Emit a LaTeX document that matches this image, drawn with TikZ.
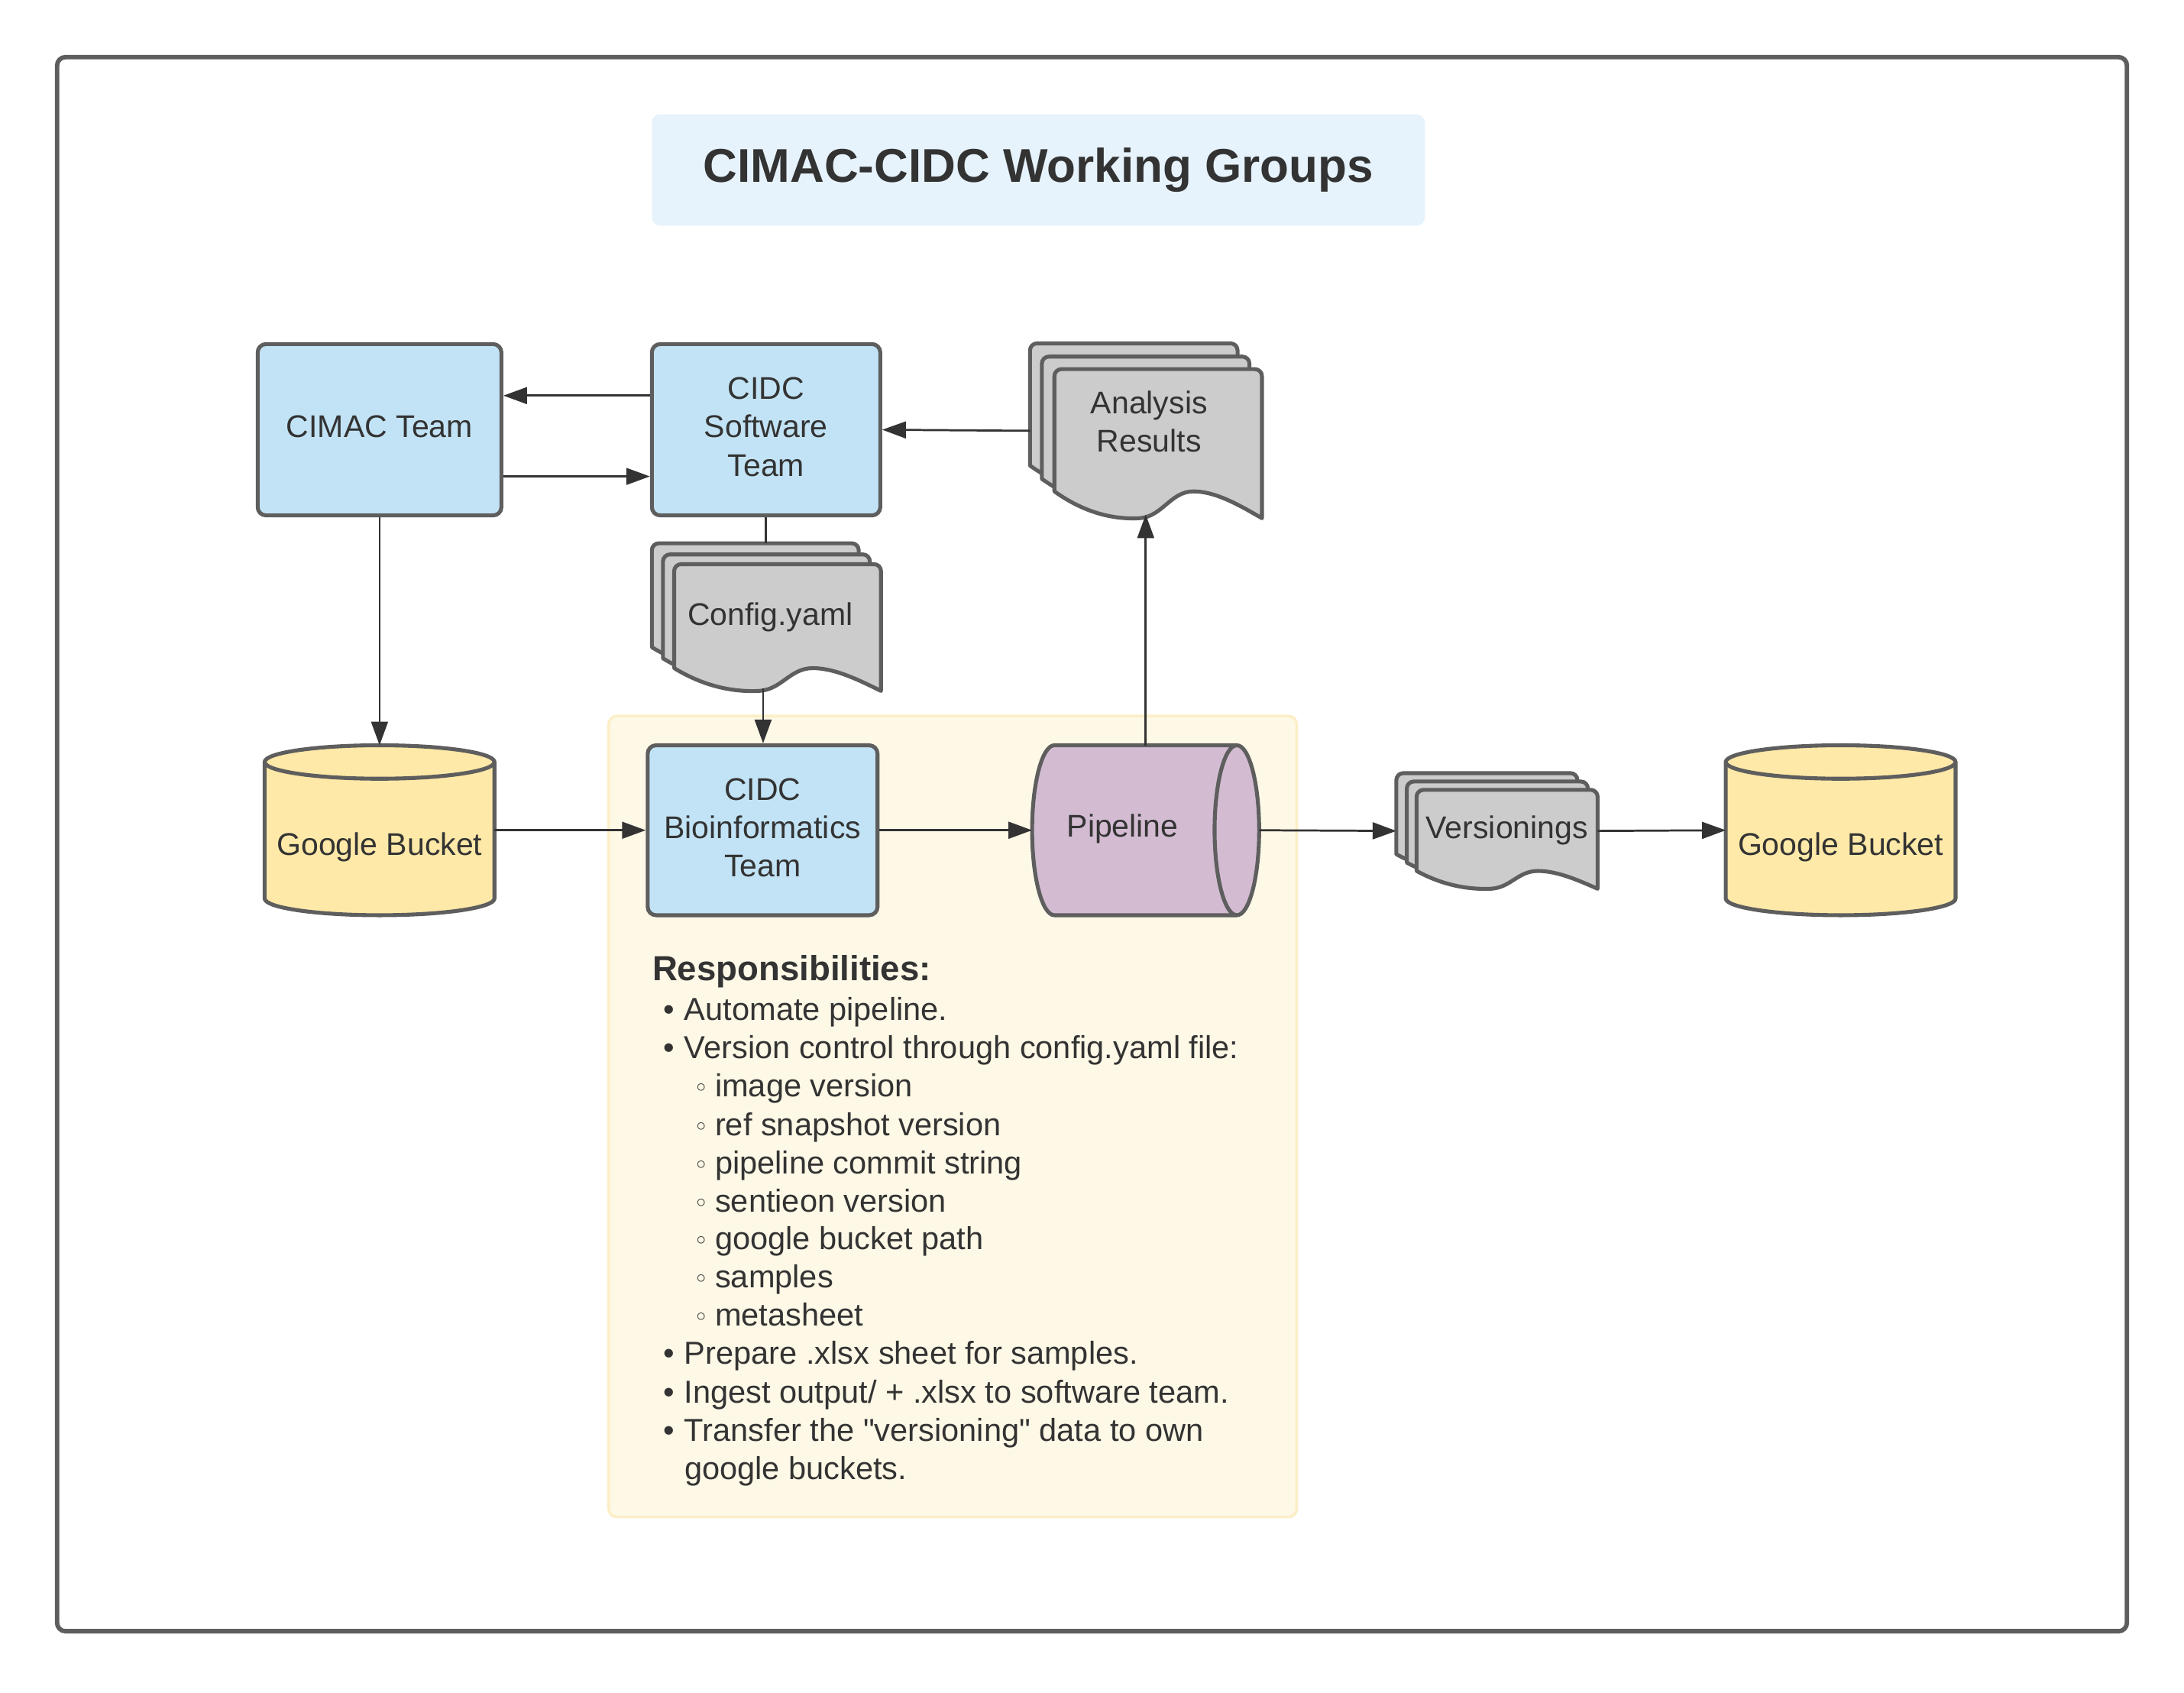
\documentclass[tikz,border=0pt]{standalone}
\usepackage{fontspec}
\setmainfont{Liberation Sans}
\newfontfamily\rawsans{Liberation Sans}[Ligatures=TeXOff]
\newfontfamily\dejavu{DejaVu Sans}
\usetikzlibrary{arrows.meta,calc}
\definecolor{edgegray}{HTML}{5E5E5E}
\definecolor{linedark}{HTML}{333333}
\definecolor{textdark}{HTML}{333333}
\definecolor{boxblue}{HTML}{C2E3F5}
\definecolor{docgray}{HTML}{CCCCCC}
\definecolor{bucketyellow}{HTML}{FFE9A8}
\definecolor{pipemauve}{HTML}{D3BCD2}
\definecolor{titleblue}{HTML}{E7F3FC}
\definecolor{zonefill}{HTML}{FEF8E6}
\definecolor{zoneedge}{HTML}{FCEFC8}
% one document sheet: x y w h (display px, y down)
\newcommand\onedoc[4]{%
  \filldraw[docst] ({#1},{#2+0.82*#4}) [rounded corners=2.5pt] -- ({#1},{#2}) -- ({#1+#3},{#2}) [sharp corners] -- ({#1+#3},{#2+#4})
   .. controls ({#1+0.90*#3},{#2+0.92*#4}) and ({#1+0.78*#3},{#2+0.82*#4}) .. ({#1+0.67*#3},{#2+0.82*#4})
   .. controls ({#1+0.56*#3},{#2+0.82*#4}) and ({#1+0.52*#3},{#2+0.99*#4}) .. ({#1+0.41*#3},{#2+#4})
   .. controls ({#1+0.28*#3},{#2+1.01*#4}) and ({#1+0.14*#3},{#2+0.96*#4}) .. cycle;}
\newcommand\subbul{\makebox[7.5pt][l]{\dejavu\fontsize{9}{10}\selectfont ◦}}
\newcommand\mainbul{\makebox[7.5pt][l]{•}}
\newcommand\sq{{\rawsans "}}
\begin{document}
\begin{tikzpicture}[x=0.5pt,y=-0.5pt,
  base/.style={font=\fontsize{11.25}{13.75}\selectfont, text=textdark, align=center},
  box/.style={draw=edgegray, line width=1.4pt, fill=boxblue, rounded corners=3pt, inner sep=0},
  docst/.style={draw=edgegray, line width=1.4pt, fill=docgray, line join=round},
  cylst/.style={draw=edgegray, line width=1.4pt, fill=bucketyellow, line join=round},
  pipest/.style={draw=edgegray, line width=1.4pt, fill=pipemauve, line join=round},
  hold/.style={inner sep=0, outer sep=0},
  lbl/.style={base, inner sep=0},
  arr/.style={draw=linedark, line width=0.75pt, -{Triangle[length=8.5pt,width=6pt]}},
  plain/.style={draw=linedark, line width=0.75pt},
  item/.style={font=\fontsize{11.4}{13.75}\selectfont, text=textdark, anchor=base west, inner sep=0}
]
\useasboundingbox (0,0) rectangle (1568,1215.3);
\fill[white] (0,0) rectangle (1568,1215.3);
% outer frame
\draw[edgegray, line width=1.6pt, rounded corners=3pt] (41,41) rectangle (1527,1171);
% title
\node[fill=titleblue, rounded corners=3pt, minimum width=277.5pt, minimum height=40pt, inner sep=0,
      font=\fontsize{17}{20}\selectfont\bfseries, text=textdark] (title) at (745.5,122) {CIMAC-CIDC Working Groups};
% responsibilities zone
\node[draw=zoneedge, fill=zonefill, line width=1pt, rounded corners=3pt, minimum width=247pt, minimum height=287.5pt, inner sep=0] (zone) at (684,801.5) {};

% rectangles
\node[box, minimum width=87.5pt, minimum height=61.5pt] (cimac) at (272.5,308.5) {};
\node[lbl] (cimact) at (272.5,306.5) {CIMAC Team};
\node[box, minimum width=82pt, minimum height=61.5pt] (sw) at (550,308.5) {};
\node[lbl] (swt) at (550,306.5) {CIDC\\Software\\Team};
\node[box, minimum width=82.5pt, minimum height=61pt] (bio) at (547.5,596) {};
\node[lbl] (biot) at (547.5,594) {CIDC\\Bioinformatics\\Team};

% Analysis Results stack
\onedoc{739.5}{246.5}{149}{107}
\onedoc{748}{256}{149}{107}
\onedoc{757}{265}{149}{107}
\node[hold, minimum width=83.25pt, minimum height=63pt] (ana) at (822.75,309.25) {};
\node[lbl] (anat) at (825,302.5) {Analysis\\Results};
\coordinate (anab) at ({757+0.44*149},{265+0.975*107});

% Config.yaml stack
\onedoc{468}{390}{148.5}{91}
\onedoc{476}{398}{148.5}{91}
\onedoc{484}{405}{148.5}{91}
\node[hold, minimum width=82.25pt, minimum height=53pt] (cfg) at (550.25,443) {};
\node[lbl] (cfgt) at (553,443) {Config.yaml};
\coordinate (cfgb) at ({484+0.43*148.5},{405+0.98*91});

% Versionings stack
\onedoc{1002.5}{555}{130}{71}
\onedoc{1010}{561}{130}{71}
\onedoc{1017}{567}{130}{71}
\node[hold, minimum width=72.25pt, minimum height=41.5pt] (ver) at (1074.75,596.5) {};
\node[lbl] (vert) at (1082,596) {Versionings};

% Google Bucket (left)
\filldraw[cylst] (190,547) -- (190,645) arc[start angle=180,end angle=360,x radius=41.25pt,y radius=6pt]
  -- (355,547) arc[start angle=0,end angle=180,x radius=41.25pt,y radius=6pt] -- cycle;
\draw[cylst, fill=none] (190,547) arc[start angle=180,end angle=360,x radius=41.25pt,y radius=6pt];
\node[hold, minimum width=82.5pt, minimum height=61pt] (gb1) at (272.5,596) {};
\node[lbl] (gb1t) at (272.5,608) {Google Bucket};

% Google Bucket (right)
\filldraw[cylst] (1239,547) -- (1239,645) arc[start angle=180,end angle=360,x radius=41.25pt,y radius=6pt]
  -- (1404,547) arc[start angle=0,end angle=180,x radius=41.25pt,y radius=6pt] -- cycle;
\draw[cylst, fill=none] (1239,547) arc[start angle=180,end angle=360,x radius=41.25pt,y radius=6pt];
\node[hold, minimum width=82.5pt, minimum height=61pt] (gb2) at (1321.5,596) {};
\node[lbl] (gb2t) at (1321.5,608) {Google Bucket};

% Pipeline
\filldraw[pipest] (757,535) -- (888,535) arc[start angle=90,end angle=-90,x radius=8pt,y radius=30.5pt]
  -- (757,657) arc[start angle=270,end angle=90,x radius=8pt,y radius=30.5pt] -- cycle;
\draw[pipest, fill=none] (888,535) arc[start angle=90,end angle=270,x radius=8pt,y radius=30.5pt];
\node[hold, minimum width=81.5pt, minimum height=61pt] (pipe) at (822.5,596) {};
\node[lbl] (pipet) at (806,595) {Pipeline};

% connectors
\draw[arr] ([yshift=12.25pt]sw.west) -- ([yshift=12.25pt]cimac.east);
\draw[arr] ([yshift=-16.75pt]cimac.east) -- ([yshift=-16.75pt]sw.west);
\draw[arr] (ana.west) -- (sw.east);
\draw[arr] (cimac.south) -- (gb1.north);
\draw[plain] (sw.south) -- (sw.south |- cfg.north);
\draw[arr] (cfgb) -- (cfgb |- bio.north);
\draw[arr] (gb1.east) -- (bio.west);
\draw[arr] (bio.east) -- (pipe.west);
\draw[arr] (pipe.north -| anab) -- (anab);
\draw[arr] (pipe.east) -- (ver.west);
\draw[arr] (ver.east) -- (gb2.west);

% responsibilities text
\node[item, font=\fontsize{12.5}{15}\selectfont\bfseries] (r0) at (468,704) {Responsibilities:};
\node[item] (r1) at (476,732.5) {\mainbul Automate pipeline.};
\node[item] (r2) at (476,760) {\mainbul Version control through config.yaml file:};
\node[item] (r3) at (498,787.5) {\subbul image version};
\node[item] (r4) at (498,815) {\subbul ref snapshot version};
\node[item] (r5) at (498,842.5) {\subbul pipeline commit string};
\node[item] (r6) at (498,870) {\subbul sentieon version};
\node[item] (r7) at (498,897) {\subbul google bucket path};
\node[item] (r8) at (498,924.5) {\subbul samples};
\node[item] (r9) at (498,952) {\subbul metasheet};
\node[item] (r10) at (476,979.5) {\mainbul Prepare .xlsx sheet for samples.};
\node[item] (r11) at (476,1007) {\mainbul Ingest output/ + .xlsx to software team.};
\node[item] (r12) at (476,1034.5) {\mainbul Transfer the \sq versioning\sq{} data to own};
\node[item] (r13) at (491,1062) {google buckets.};
\end{tikzpicture}
\end{document}
